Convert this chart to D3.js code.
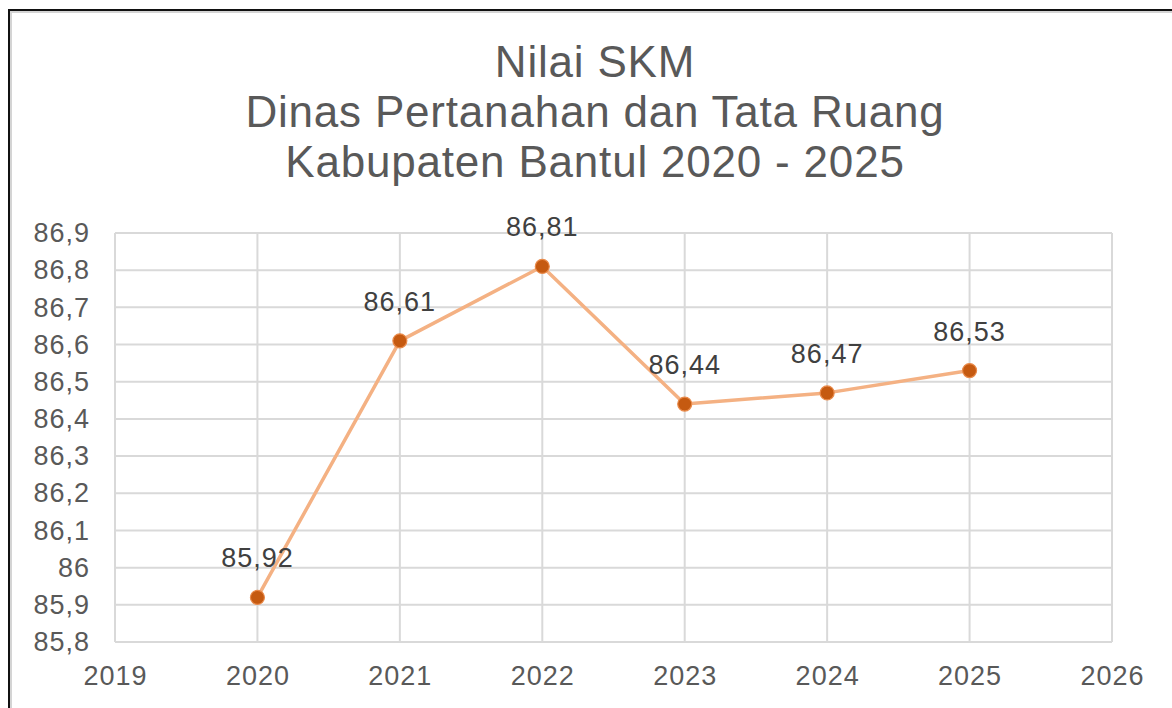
<!DOCTYPE html>
<html>
<head>
<meta charset="utf-8">
<script src="https://cdn.jsdelivr.net/npm/d3@7"></script>
<style>
  html, body { margin: 0; padding: 0; background: #fff; }
  svg { display: block; font-family: "Liberation Sans", Arial, sans-serif; }
</style>
</head>
<body>
<div id="chart"></div>
<script>
var titleLines = ["Nilai SKM", "Dinas Pertanahan dan Tata Ruang", "Kabupaten Bantul 2020 - 2025"];
var years = [2020, 2021, 2022, 2023, 2024, 2025];
var values = [85.92, 86.61, 86.81, 86.44, 86.47, 86.53];
var xTicks = [2019, 2020, 2021, 2022, 2023, 2024, 2025, 2026];
var yTicks = [85.8, 85.9, 86, 86.1, 86.2, 86.3, 86.4, 86.5, 86.6, 86.7, 86.8, 86.9];

var width = 1172, height = 708;
var plot = {left: 115, top: 233, right: 1112, bottom: 642};

var svg = d3.select("#chart").append("svg")
    .attr("width", width)
    .attr("height", height);

// outer frame (only left and top edges fall inside the picture)
svg.append("rect")
    .attr("x", 11).attr("y", 12)
    .attr("width", width + 20).attr("height", height + 20)
    .attr("fill", "none")
    .attr("stroke", "#d4d4d4")
    .attr("stroke-width", 2);
svg.append("rect")
    .attr("x", 9).attr("y", 10)
    .attr("width", width + 20).attr("height", height + 20)
    .attr("fill", "none")
    .attr("stroke", "#111")
    .attr("stroke-width", 2);

var x = d3.scaleLinear().domain([2019, 2026]).range([plot.left, plot.right]);
var y = d3.scaleLinear().domain([85.8, 86.9]).range([plot.bottom, plot.top]);

var fmt = function(v) { return String(+v.toFixed(2)).replace(".", ","); };

// title
svg.append("text")
    .attr("x", 595)
    .attr("fill", "#595959")
    .style("font-size", "44px")
    .style("letter-spacing", "0.8px")
    .attr("text-anchor", "middle")
    .selectAll("tspan")
    .data(titleLines)
    .join("tspan")
      .attr("x", 595)
      .attr("y", function(d, i) { return 77 + i * 50; })
      .text(function(d) { return d; });

// grid
var grid = svg.append("g").attr("stroke", "#d9d9d9").attr("stroke-width", 2);
grid.selectAll("line.h")
    .data(yTicks)
    .join("line")
      .attr("class", "h")
      .attr("x1", plot.left).attr("x2", plot.right)
      .attr("y1", function(d) { return y(d); })
      .attr("y2", function(d) { return y(d); });
grid.selectAll("line.v")
    .data(xTicks)
    .join("line")
      .attr("class", "v")
      .attr("y1", plot.top).attr("y2", plot.bottom)
      .attr("x1", function(d) { return x(d); })
      .attr("x2", function(d) { return x(d); });

// axes
var yAxis = svg.append("g")
    .attr("transform", "translate(" + plot.left + ",0)")
    .call(d3.axisLeft(y).tickValues(yTicks).tickSize(0).tickPadding(25).tickFormat(fmt));
var xAxis = svg.append("g")
    .attr("transform", "translate(0," + plot.bottom + ")")
    .call(d3.axisBottom(x).tickValues(xTicks).tickSize(0).tickPadding(24).tickFormat(d3.format("d")));
[yAxis, xAxis].forEach(function(ax) {
    ax.select(".domain").remove();
    ax.selectAll("text")
        .attr("fill", "#595959")
        .style("font-size", "27px")
        .style("letter-spacing", "1px")
        .style("font-family", "'Liberation Sans', Arial, sans-serif");
});

var data = years.map(function(yr, i) { return {year: yr, value: values[i]}; });

// line
svg.append("path")
    .datum(data)
    .attr("fill", "none")
    .attr("stroke", "#f4b183")
    .attr("stroke-width", 3.5)
    .attr("stroke-linejoin", "round")
    .attr("d", d3.line()
        .x(function(d) { return x(d.year); })
        .y(function(d) { return y(d.value); }));

// markers
svg.selectAll("circle.pt")
    .data(data)
    .join("circle")
      .attr("class", "pt")
      .attr("cx", function(d) { return x(d.year); })
      .attr("cy", function(d) { return y(d.value); })
      .attr("r", 7)
      .attr("fill", "#c55a11")
      .attr("stroke", "#e98a4a")
      .attr("stroke-width", 1.2);

// data labels
svg.selectAll("text.lbl")
    .data(data)
    .join("text")
      .attr("class", "lbl")
      .attr("x", function(d) { return x(d.year); })
      .attr("y", function(d) { return y(d.value) - 30; })
      .attr("text-anchor", "middle")
      .attr("fill", "#404040")
      .style("font-size", "27px")
      .style("letter-spacing", "1px")
      .text(function(d) { return fmt(d.value); });
</script>
</body>
</html>
